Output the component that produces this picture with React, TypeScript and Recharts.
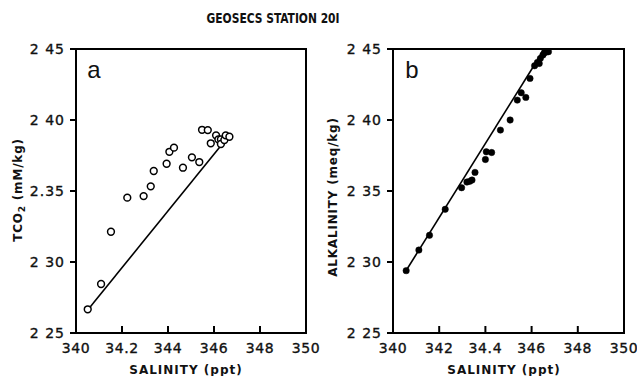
import React from "react";
import {
  ScatterChart,
  Scatter,
  XAxis,
  YAxis,
  ReferenceArea,
  ReferenceLine,
} from "recharts";

// ---- data ----
const salinityTicks = [34.0, 34.2, 34.4, 34.6, 34.8, 35.0];
const leftXTickLabels = ["340", "34.2", "344", "346", "348", "350"];
const rightXTickLabels = ["340", "342", "34.4", "346", "348", "350"];
const yTicks = [2.25, 2.3, 2.35, 2.4, 2.45];
const leftYTickLabels = ["2 25", "2 30", "2.35", "2 40", "2 45"];
const rightYTickLabels = ["2 25", "2 30", "2 35", "2 40", "2 45"];

const tco2Salinity = [
  34.051, 34.109, 34.152, 34.223, 34.294, 34.325, 34.338, 34.394, 34.406, 34.426,
  34.465, 34.504, 34.536, 34.548, 34.573, 34.586, 34.609, 34.619, 34.63, 34.63,
  34.645, 34.651, 34.667,
];
const tco2Values = [
  2.2667, 2.2845, 2.3213, 2.3453, 2.3464, 2.3533, 2.3641, 2.3692, 2.3776, 2.3805,
  2.3664, 2.3737, 2.3704, 2.3931, 2.3929, 2.3836, 2.3892, 2.3864, 2.3864, 2.3831,
  2.3859, 2.3892, 2.3882,
];
const tco2LineSalinity = [34.05, 34.635];
const tco2LineValues = [2.266, 2.383];

const alkSalinity = [
  34.057, 34.112, 34.158, 34.226, 34.297, 34.32, 34.332, 34.342, 34.355, 34.4,
  34.404, 34.427, 34.465, 34.507, 34.538, 34.555, 34.575, 34.593, 34.613, 34.625,
  34.633, 34.638, 34.649, 34.655, 34.665, 34.673,
];
const alkValues = [
  2.2939, 2.3084, 2.3188, 2.3371, 2.3523, 2.3563, 2.3568, 2.3577, 2.3631, 2.3722,
  2.3776, 2.3771, 2.3929, 2.4, 2.414, 2.4192, 2.4159, 2.4293, 2.4382, 2.4405,
  2.4398, 2.4434, 2.4458, 2.4474, 2.4479, 2.4481,
];
const alkLineSalinity = [34.057, 34.655];
const alkLineValues = [2.294, 2.45];

const tco2Data = tco2Salinity.map((s, i) => ({ s, v: tco2Values[i] }));
const alkData = alkSalinity.map((s, i) => ({ s, v: alkValues[i] }));

const FONT = "'DejaVu Sans', sans-serif";

const labelFor = (ticks: number[], labels: string[], value: number) => {
  const i = ticks.findIndex((t) => Math.abs(t - value) < 1e-6);
  return i >= 0 ? labels[i] : String(value);
};

const makeXTick = (labels: string[]) => (props: any) => {
  const { x, y, payload } = props;
  return (
    <g>
      <line x1={x} y1={y - 10} x2={x} y2={y - 17} stroke="#000" strokeWidth={2} />
      <text
        x={x}
        y={y}
        dy="0.71em"
        textAnchor="middle"
        fontFamily={FONT}
        fontSize={14}
        fill="#111"
        stroke="#111"
        strokeWidth={0.35}
        letterSpacing={0.6}
      >
        {labelFor(salinityTicks, labels, payload.value)}
      </text>
    </g>
  );
};

const makeYTick = (labels: string[]) => (props: any) => {
  const { x, y, payload } = props;
  return (
    <text
      x={x}
      y={y}
      dy="0.35em"
      textAnchor="end"
      fontFamily={FONT}
      fontSize={14}
      fill="#111"
      stroke="#111"
      strokeWidth={0.35}
      letterSpacing={1}
    >
      {labelFor(yTicks, labels, payload.value)}
    </text>
  );
};

const OpenCircle = (props: any) => (
  <circle cx={props.cx} cy={props.cy} r={3.4} fill="#fff" stroke="#000" strokeWidth={1.5} />
);
const FilledDot = (props: any) => (
  <circle cx={props.cx} cy={props.cy} r={3.2} fill="#000" stroke="#000" strokeWidth={0.5} />
);

type PanelProps = {
  data: { s: number; v: number }[];
  xLabels: string[];
  yLabels: string[];
  lineS: number[];
  lineV: number[];
  filled: boolean;
  width: number;
  margin: { top: number; right: number; bottom: number; left: number };
};

const Panel = ({ data, xLabels, yLabels, lineS, lineV, filled, width, margin }: PanelProps) => (
  <ScatterChart width={width} height={376} margin={margin} style={{ overflow: "visible" }}>
    <XAxis
      type="number"
      dataKey="s"
      domain={[34.0, 35.0]}
      ticks={salinityTicks}
      allowDataOverflow
      height={30}
      tickSize={0}
      tickMargin={10}
      tickLine={false}
      axisLine={{ stroke: "#000", strokeWidth: 2 }}
      tick={makeXTick(xLabels)}
      interval={0}
    />
    <YAxis
      type="number"
      dataKey="v"
      domain={[2.25, 2.45]}
      ticks={yTicks}
      allowDataOverflow
      width={60}
      tickSize={6}
      tickMargin={5}
      tickLine={{ stroke: "#000", strokeWidth: 2 }}
      axisLine={{ stroke: "#000", strokeWidth: 2 }}
      tick={makeYTick(yLabels)}
      interval={0}
    />
    <ReferenceArea
      x1={34.0}
      x2={35.0}
      y1={2.25}
      y2={2.45}
      fill="none"
      fillOpacity={0}
      stroke="#000"
      strokeWidth={2}
    />
    <ReferenceLine
      segment={[
        { x: lineS[0], y: lineV[0] },
        { x: lineS[1], y: lineV[1] },
      ]}
      stroke="#000"
      strokeWidth={1.6}
    />
    <Scatter
      data={data}
      isAnimationActive={false}
      shape={filled ? FilledDot : OpenCircle}
    />
  </ScatterChart>
);

export default function App() {
  return (
    <div
      style={{
        position: "fixed",
        left: 0,
        top: 0,
        width: 637,
        height: 376,
        background: "#fff",
        overflow: "hidden",
      }}
    >
      <div style={{ position: "absolute", left: 0, top: 0 }}>
        <Panel
          data={tco2Data}
          xLabels={leftXTickLabels}
          yLabels={leftYTickLabels}
          lineS={tco2LineSalinity}
          lineV={tco2LineValues}
          filled={false}
          width={320}
          margin={{ top: 49, right: 14, bottom: 13, left: 16 }}
        />
      </div>
      <div style={{ position: "absolute", left: 320, top: 0 }}>
        <Panel
          data={alkData}
          xLabels={rightXTickLabels}
          yLabels={rightYTickLabels}
          lineS={alkLineSalinity}
          lineV={alkLineValues}
          filled={true}
          width={317}
          margin={{ top: 49, right: 13, bottom: 13, left: 13 }}
        />
      </div>
      <svg
        width={637}
        height={376}
        style={{ position: "absolute", left: 0, top: 0, pointerEvents: "none" }}
      >
        <text
          x={273}
          y={23}
          textAnchor="middle"
          fontFamily="'DejaVu Sans Condensed', 'DejaVu Sans', sans-serif"
          fontWeight="bold"
          fontSize={13.5}
          textLength={133}
          lengthAdjust="spacingAndGlyphs"
          fill="#111"
        >
          GEOSECS STATION 20I
        </text>
        <text
          x={94}
          y={78}
          textAnchor="middle"
          fontFamily="'Liberation Sans', sans-serif"
          fontSize={24}
          fill="#111"
        >
          a
        </text>
        <text
          x={412}
          y={78}
          textAnchor="middle"
          fontFamily="'Liberation Sans', sans-serif"
          fontSize={24}
          fill="#111"
        >
          b
        </text>
        <text
          transform="translate(22,190) rotate(-90)"
          textAnchor="middle"
          fontFamily={FONT}
          fontWeight="bold"
          fontSize={12}
          fill="#111"
          letterSpacing={0.8}
        >
          TCO<tspan fontSize={9} dy={3}>2</tspan>
          <tspan dy={-3}>{"  (mM/kg)"}</tspan>
        </text>
        <text
          transform="translate(337,197) rotate(-90)"
          textAnchor="middle"
          fontFamily={FONT}
          fontWeight="bold"
          fontSize={12}
          fill="#111"
          letterSpacing={0.8}
        >
          ALKALINITY (meq/kg)
        </text>
        <text
          x={186}
          y={374}
          textAnchor="middle"
          fontFamily={FONT}
          fontWeight="bold"
          fontSize={12}
          fill="#111"
          letterSpacing={1}
        >
          SALINITY (ppt)
        </text>
        <text
          x={504}
          y={374}
          textAnchor="middle"
          fontFamily={FONT}
          fontWeight="bold"
          fontSize={12}
          fill="#111"
          letterSpacing={1}
        >
          SALINITY (ppt)
        </text>
      </svg>
    </div>
  );
}
